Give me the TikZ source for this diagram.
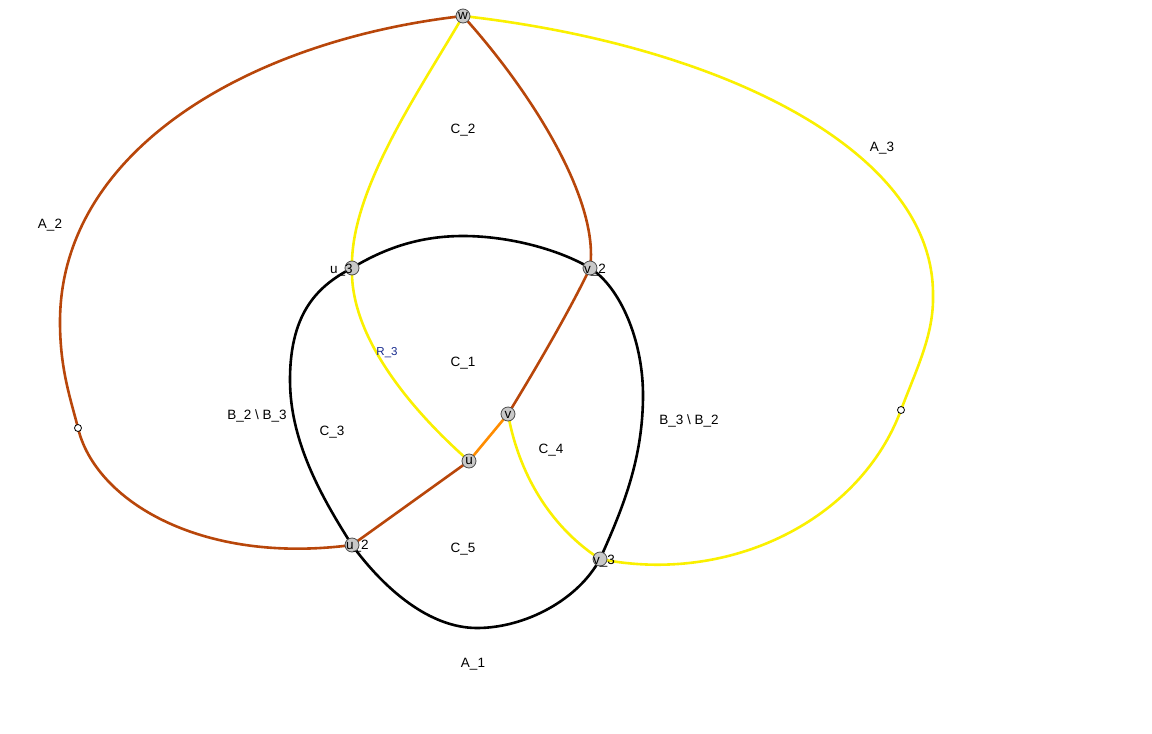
\documentclass[tikz,border=0pt]{standalone}
\usepackage{fontspec}
\setmainfont{Liberation Sans}
\begin{document}
\begin{tikzpicture}[x=1pt,y=-1pt,
  edge/.style={line width=2.6pt},
  blk/.style={edge,black},
  brn/.style={edge,draw=brownc},
  yel/.style={edge,draw=yelc},
  org/.style={edge,draw=orgc},
  vtx/.style={circle,fill=vgray,draw=black!70,line width=0.8pt,minimum size=14pt,inner sep=0pt},
  smallv/.style={circle,fill=white,draw=black,line width=0.8pt,minimum size=7pt,inner sep=0pt},
  lbl/.style={font=\fontsize{13.5}{15}\selectfont,inner sep=0pt},
  vlbl/.style={font=\fontsize{13.5}{15}\selectfont,inner sep=0pt,anchor=west}
]
\definecolor{brownc}{RGB}{184,70,10}
\definecolor{yelc}{RGB}{250,240,0}
\definecolor{orgc}{RGB}{255,140,0}
\definecolor{vgray}{RGB}{200,200,200}
\definecolor{bluec}{RGB}{20,40,140}
\useasboundingbox (0,0) rectangle (1152,734);

\coordinate (w) at (463,16);
\coordinate (u3) at (352,268);
\coordinate (v2) at (590,268);
\coordinate (v) at (508,414);
\coordinate (u) at (469,461);
\coordinate (u2) at (352,545);
\coordinate (v3) at (600,559);
\coordinate (p) at (78,428);
\coordinate (q) at (901,410);
\coordinate (bT) at (463,236);
\coordinate (bR) at (643,395);
\coordinate (bB) at (477,628);
\coordinate (bL) at (290,380);
\coordinate (aL) at (60,322);
\coordinate (aR) at (933,295);

% black cycle
\draw[blk] (u3) .. controls (385,248) and (420,236) .. (bT)
  .. controls (510,236) and (560,250) .. (v2)
  .. controls (620,287) and (643,340) .. (bR)
  .. controls (643,460) and (622,510) .. (v3)
  .. controls (578,600) and (525,628) .. (bB)
  .. controls (430,628) and (385,590) .. (u2)
  .. controls (320,495) and (290,440) .. (bL)
  .. controls (290,310) and (320,285) .. (u3) -- cycle;

% A_2 brown
\draw[brn] (w) .. controls (250,40) and (60,150) .. (aL)
  .. controls (60,370) and (71,400) .. (p);
\draw[brn] (p) .. controls (95,500) and (200,565) .. (u2);
% brown w - v2 - v, orange v - u, brown u - u2
\draw[brn] (w) .. controls (530,90) and (600,200) .. (v2);
\draw[brn] (v2) .. controls (570,310) and (535,370) .. (v);
\draw[org] (v) -- (u);
\draw[brn] (u) -- (u2);

% yellow
\draw[yel] (w) .. controls (420,90) and (350,190) .. (u3);
\draw[yel] (u3) .. controls (350,330) and (400,400) .. (u);
\draw[yel] (v) .. controls (520,480) and (555,530) .. (v3);
\draw[yel] (v3) .. controls (730,585) and (860,520) .. (q);
\draw[yel] (q) .. controls (916,370) and (934,335) .. (aR)
  .. controls (934,150) and (720,45) .. (w);

% vertices
\foreach \n in {w,u3,v2,v,u,u2,v3} \node[vtx] (\n c) at (\n) {};
\node[smallv] (pc) at (p) {};
\node[smallv] (qc) at (q) {};

\node[lbl] (lw) at (463,16) {w};
\node[vlbl] (lu3) at (330,270) {u\_3};
\node[vlbl] (lv2) at (584,270) {v\_2};
\node[lbl] (lv) at (508,415) {v};
\node[lbl] (lu) at (469,461) {u};
\node[vlbl] (lu2) at (346,546) {u\_2};
\node[vlbl] (lv3) at (593,561) {v\_3};

% region labels
\node[lbl] (C2) at (463,130) {C\_2};
\node[lbl] (A3) at (882,148) {A\_3};
\node[lbl] (A2) at (50,225) {A\_2};
\node[lbl] (C1) at (463,363) {C\_1};
\node[lbl,text=bluec,font=\fontsize{11.5}{13}\selectfont] (R3) at (387,353) {R\_3};
\node[lbl] (B23) at (257,416) {B\_2 \textbackslash{} B\_3};
\node[lbl] (C3) at (332,432) {C\_3};
\node[lbl] (B32) at (689,421) {B\_3 \textbackslash{} B\_2};
\node[lbl] (C4) at (551,450) {C\_4};
\node[lbl] (C5) at (463,549) {C\_5};
\node[lbl] (A1) at (473,664) {A\_1};
\end{tikzpicture}
\end{document}
